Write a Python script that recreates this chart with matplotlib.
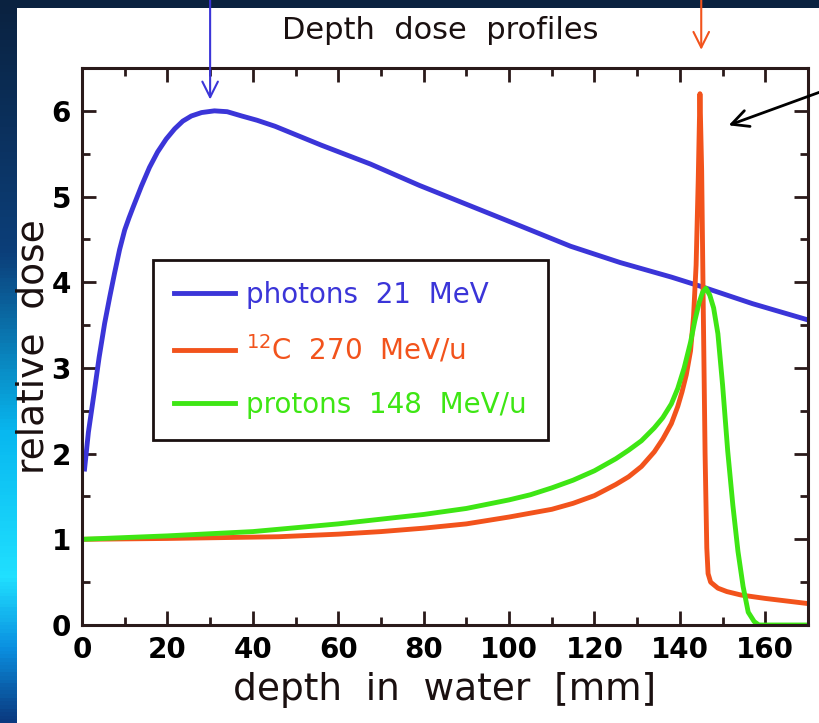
import numpy as np
import matplotlib
matplotlib.use("Agg")
import matplotlib.pyplot as plt
from matplotlib import font_manager
from matplotlib.colors import LinearSegmentedColormap
from matplotlib.patches import Rectangle
from matplotlib.ticker import MultipleLocator

# depth dose data (depth in mm, relative dose)
photon_x = [0.6, 1.5, 2.9, 4, 5.3, 6.5, 7.6, 8.8, 10, 11, 12, 13.9, 15.8, 17.7, 19.7,
            21.7, 23.6, 25.6, 28, 31, 34, 37.4, 41, 45.2, 56, 67.5, 79, 91, 103,
            114.4, 126, 138, 145, 157, 170]
photon_y = [1.82, 2.25, 2.73, 3.12, 3.52, 3.83, 4.1, 4.38, 4.61, 4.75, 4.88, 5.12, 5.34,
            5.52, 5.67, 5.79, 5.88, 5.94, 5.98, 6.0, 5.99, 5.94, 5.89, 5.82, 5.6,
            5.38, 5.13, 4.89, 4.65, 4.42, 4.23, 4.06, 3.95, 3.75, 3.56]

carbon_x = [0, 20, 46, 60, 70, 80, 90, 100, 110, 115, 120, 125, 128, 131, 134, 136,
            138, 139.5, 140.5, 141.5, 142.5, 143.2, 143.8, 144.3, 144.7, 145.1, 145.5,
            145.9, 146.3, 146.6, 147.2, 148.9, 151, 154.3, 160, 165, 170]
carbon_y = [1.0, 1.01, 1.03, 1.06, 1.09, 1.13, 1.18, 1.26, 1.35, 1.42, 1.51, 1.64,
            1.73, 1.85, 2.02, 2.17, 2.35, 2.55, 2.72, 2.92, 3.2, 3.6, 4.2, 5.2, 6.2,
            5.3, 3.6, 2.0, 0.9, 0.6, 0.5, 0.43, 0.39, 0.35, 0.31, 0.28, 0.25]

proton_x = [0, 20, 40, 60, 80, 90, 100, 105, 110, 115, 120, 125, 128, 131, 134, 136,
            138, 139.5, 141, 142.5, 143.5, 144.5, 145.3, 146.1, 147, 147.9, 148.9, 150,
            151.2, 152.4, 153.6, 154.8, 156, 157.4, 158.5, 170]
proton_y = [1.0, 1.04, 1.09, 1.18, 1.29, 1.36, 1.46, 1.52, 1.6, 1.69, 1.8, 1.94, 2.04,
            2.15, 2.3, 2.42, 2.58, 2.76, 3.0, 3.3, 3.55, 3.76, 3.88, 3.93, 3.85, 3.7,
            3.4, 2.8, 2.03, 1.4, 0.86, 0.45, 0.15, 0.04, 0.0, 0.0]

labels = ["photons  21  MeV", r"$^{12}$C  270  MeV/u", "protons  148  MeV/u"]
colors = ["#3b35d8", "#f2531c", "#3ee614"]

names = {f.name for f in font_manager.fontManager.ttflist}
narrow = "Liberation Sans Narrow" if "Liberation Sans Narrow" in names else "DejaVu Sans"

fig = plt.figure(figsize=(8.19, 7.23), dpi=100, facecolor="#0a2240")

# white slide panel and the blue strip on the left
fig.patches.append(Rectangle((17/819, 0), 1, 1 - 8/723, transform=fig.transFigure,
                             facecolor="white", edgecolor="none", zorder=-10))
strip = fig.add_axes([0, 0, 17/819, 1])
strip.set_zorder(-5)
cmap = LinearSegmentedColormap.from_list(
    "strip", [(0, "#0a2240"), (0.35, "#0c3f7a"), (0.6, "#08b8f0"),
              (0.8, "#20e0ff"), (0.9, "#0a8fe0"), (1, "#0a3a80")])
strip.imshow(np.linspace(0, 1, 200)[:, None], aspect="auto", cmap=cmap)
strip.axis("off")

ax = fig.add_axes([82/819, 98/723, 726/819, 557/723])
ax.set_facecolor("white")
ax.plot(photon_x, photon_y, color=colors[0], lw=3.5, label=labels[0])
ax.plot(carbon_x, carbon_y, color=colors[1], lw=3.5, label=labels[1])
ax.plot(proton_x, proton_y, color=colors[2], lw=3.5, label=labels[2])

ax.set_xlim(0, 170)
ax.set_ylim(0, 6.5)
ax.xaxis.set_major_locator(MultipleLocator(20))
ax.xaxis.set_minor_locator(MultipleLocator(10))
ax.yaxis.set_major_locator(MultipleLocator(1))
ax.yaxis.set_minor_locator(MultipleLocator(0.5))
ax.tick_params(which="both", direction="in", top=True, right=True, width=2,
               color="#2a1a1a")
ax.tick_params(which="major", length=10, pad=8)
ax.tick_params(which="minor", length=6)
for lab in ax.get_xticklabels() + ax.get_yticklabels():
    lab.set_family([narrow, "DejaVu Sans"])
    lab.set_fontweight("bold")
    lab.set_fontsize(20)
for sp in ax.spines.values():
    sp.set_linewidth(2.2)
    sp.set_color("#2a1a1a")

ax.set_xlabel("depth  in  water  [mm]", fontsize=27, color="#1a1010", labelpad=6)
ax.set_ylabel("relative  dose", fontsize=27, color="#1a1010", labelpad=0)
fig.text(0.537, 0.958, "Depth  dose  profiles", ha="center", va="center",
         fontsize=22, color="#1a1010")

leg = ax.legend(loc="upper left", bbox_to_anchor=(0.098, 0.655), fancybox=False,
                edgecolor="#1a1010", framealpha=1, handlelength=2.2,
                handletextpad=0.4, labelspacing=0.9, borderpad=0.75,
                borderaxespad=0, labelcolor="linecolor",
                prop={"family": [narrow, "DejaVu Sans"], "size": 20})
leg.get_frame().set_linewidth(2)

# arrows marking the maxima
ax.annotate("", xy=(30, 6.1), xytext=(30, 7.35), annotation_clip=False,
            arrowprops=dict(arrowstyle="->", color=colors[0], lw=1.5,
                            mutation_scale=28))
ax.annotate("", xy=(145, 6.68), xytext=(145, 7.35), annotation_clip=False,
            arrowprops=dict(arrowstyle="->", color=colors[1], lw=1.5,
                            mutation_scale=28))
ax.annotate("", xy=(150.8, 5.82), xytext=(174.5, 6.25), annotation_clip=False,
            arrowprops=dict(arrowstyle="->", color="black", lw=2,
                            mutation_scale=30))

fig.savefig("out.png", dpi=100, facecolor=fig.get_facecolor())
